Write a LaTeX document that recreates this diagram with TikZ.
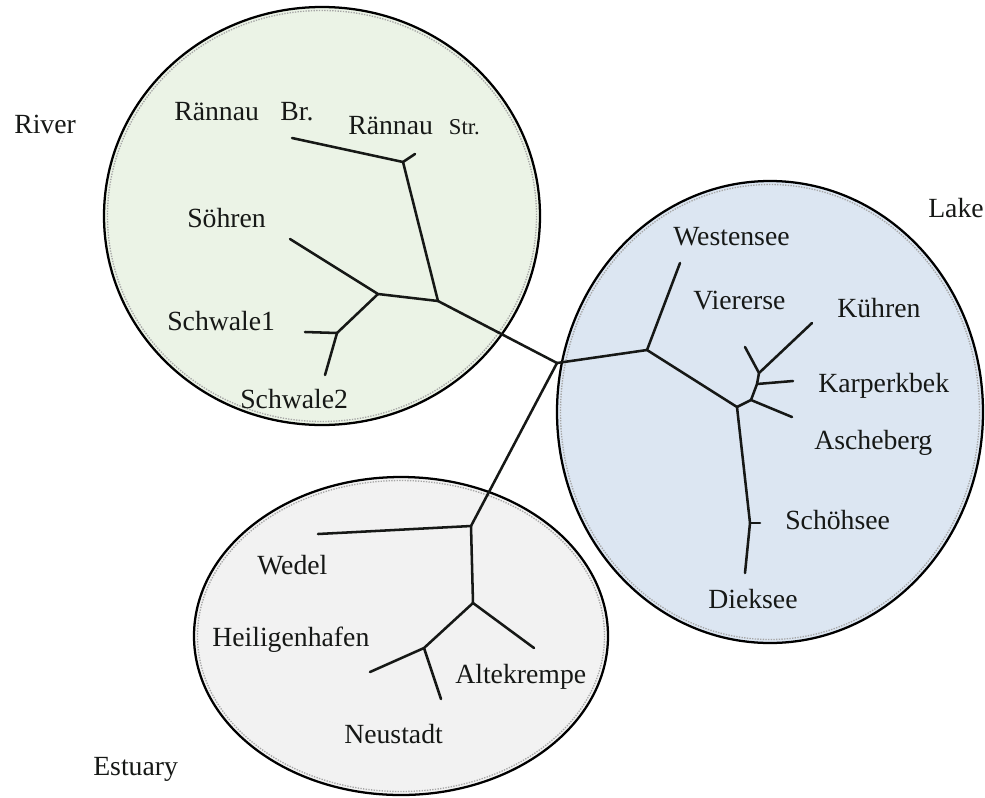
\documentclass[tikz,border=0pt]{standalone}
\usepackage{fontspec}
\setmainfont{Liberation Serif}
\usepackage{xcolor}
\definecolor{riverGreen}{RGB}{235,243,230}
\definecolor{lakeBlue}{RGB}{220,230,242}
\definecolor{estuaryGrey}{RGB}{242,242,242}
\definecolor{inkBlack}{RGB}{22,24,22}

\begin{document}
\begin{tikzpicture}[x=0.75pt,y=-0.75pt,
    branch/.style={line width=1.9pt, draw=inkBlack, line cap=round, line join=round},
    rim/.style={line width=1.7pt, draw=black},
    seam/.style={line width=1pt, draw=gray!70, densely dotted},
    site/.style={anchor=base west, inner sep=0pt, text=inkBlack, font=\fontsize{20.8}{24}\selectfont}]
    \useasboundingbox (0,0) rectangle (985,797);

    % habitat circles
    \draw[rim, fill=riverGreen] (322,216) ellipse [x radius=218, y radius=209];
    \draw[seam] (322,216) ellipse [x radius=214.5, y radius=205.5];
    \draw[rim, fill=lakeBlue] (770,412) ellipse [x radius=213, y radius=231];
    \draw[seam] (770,412) ellipse [x radius=209.5, y radius=227.5];
    \draw[rim, fill=estuaryGrey] (401,636) ellipse [x radius=207, y radius=159];
    \draw[seam] (401,636) ellipse [x radius=203.5, y radius=155.5];

    % tree joints and tips
    \coordinate (root) at (557,363);
    \coordinate (rA) at (403,162);
    \coordinate (rB) at (438,301);
    \coordinate (rC) at (378,294);
    \coordinate (rD) at (337,333);
    \coordinate (rbrTip) at (292,138);
    \coordinate (rstrTip) at (415,154);
    \coordinate (soeTip) at (290,239);
    \coordinate (sw1Tip) at (305,332);
    \coordinate (sw2Tip) at (325,375);

    \coordinate (lF) at (647,350);
    \coordinate (lG) at (737,407);
    \coordinate (lH) at (751,400);
    \coordinate (lI) at (757,384);
    \coordinate (lJ) at (759,373);
    \coordinate (lK) at (750,523);
    \coordinate (westTip) at (680,263);
    \coordinate (vierTip) at (745,347);
    \coordinate (kuehTip) at (812,323);
    \coordinate (karpTip) at (793,381);
    \coordinate (aschTip) at (792,417);
    \coordinate (schoeTip) at (760,523);
    \coordinate (diekTip) at (745,573);

    \coordinate (eK) at (471,526);
    \coordinate (eL) at (473,603);
    \coordinate (eM) at (424,648);
    \coordinate (wedTip) at (318,534);
    \coordinate (altTip) at (534,648);
    \coordinate (heiTip) at (370,672);
    \coordinate (neuTip) at (441,699);

    % river branches
    \draw[branch] (rbrTip) -- (rA) -- (rB) -- (root);
    \draw[branch] (rA) -- (rstrTip);
    \draw[branch] (soeTip) -- (rC) -- (rB);
    \draw[branch] (rC) -- (rD) -- (sw2Tip);
    \draw[branch] (rD) -- (sw1Tip);

    % lake branches
    \draw[branch] (root) -- (lF) -- (westTip);
    \draw[branch] (lF) -- (lG) -- (lK) -- (diekTip);
    \draw[branch] (lK) -- (schoeTip);
    \draw[branch] (lG) -- (lH) -- (aschTip);
    \draw[branch] (lH) -- (lI) -- (karpTip);
    \draw[branch] (lI) -- (lJ) -- (kuehTip);
    \draw[branch] (lJ) -- (vierTip);

    % estuary branches
    \draw[branch] (root) -- (eK) -- (wedTip);
    \draw[branch] (eK) -- (eL) -- (altTip);
    \draw[branch] (eL) -- (eM) -- (heiTip);
    \draw[branch] (eM) -- (neuTip);

    % habitat names
    \node[site] (river) at (14,133) {River};
    \node[site] (lake) at (928,217) {Lake};
    \node[site] (estuary) at (93,775) {Estuary};

    % sampling sites
    \node[site] (rbr) at (174,120) {Rännau\hspace{16pt}Br.};
    \node[site] (rstr) at (348,134) {Rännau\hspace{12pt}{\fontsize{17}{20}\selectfont Str.}};
    \node[site] (soe) at (187,227) {Söhren};
    \node[site] (sw1) at (167,330) {Schwale1};
    \node[site] (sw2) at (240,408) {Schwale2};
    \node[site] (west) at (673,245) {Westensee};
    \node[site] (vier) at (693,309) {Viererse};
    \node[site] (kueh) at (837,317) {Kühren};
    \node[site] (karp) at (818,392) {Karperkbek};
    \node[site] (asch) at (814,449) {Ascheberg};
    \node[site] (schoe) at (785,529) {Schöhsee};
    \node[site] (diek) at (708,608) {Dieksee};
    \node[site] (wed) at (257,574) {Wedel};
    \node[site] (hei) at (212,646) {Heiligenhafen};
    \node[site] (alt) at (455,683) {Altekrempe};
    \node[site] (neu) at (344,743) {Neustadt};
\end{tikzpicture}
\end{document}
